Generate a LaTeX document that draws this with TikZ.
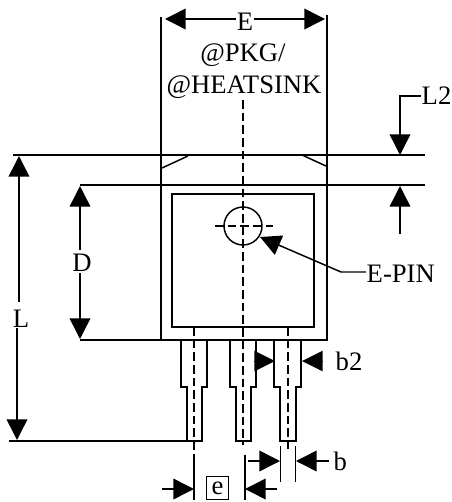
\documentclass[tikz,border=0pt]{standalone}
\usepackage{fontspec}
\setmainfont{Liberation Serif}
\usetikzlibrary{calc,positioning,arrows.meta}

\tikzset{
	dimtip/.style={-{Triangle[length=15.5pt,width=15.5pt]}},
	lbl/.style={font=\fontsize{20pt}{23pt}\selectfont,inner sep=0pt},
	center line/.style={dashed,dash pattern=on 6.5pt off 3pt},
}

\begin{document}
\begin{tikzpicture}[x=0.75pt,y=-0.75pt,line width=1.1pt]
			\useasboundingbox (0,0) rectangle (451,502);
			% package outline
			\draw (161,17) -- (161,340) -- (327,340) -- (327,15);
			\draw (172,194) rectangle (314,327);
			\draw (162,168) -- (188,156);
			\draw (302,155) -- (326,166);
			\draw (13,155) -- (425,155);
			\draw (80,185) -- (425,185);
			\draw (80,340) -- (161,340);
			\draw (9,441) -- (187,441);
			% leads
			\draw (181,340) -- (181,387) -- (187,387) -- (187,441) -- (202,441) -- (202,387) -- (207,387) -- (207,340);
			\draw (230,340) -- (230,387) -- (236,387) -- (236,441) -- (251,441) -- (251,387) -- (256,387) -- (256,340);
			\draw (274,340) -- (274,387) -- (280,387) -- (280,441) -- (296,441) -- (296,387) -- (301,387) -- (301,340);
			% center lines
			\draw[center line] (243,100) -- (243,445);
			\draw[center line] (194,327) -- (194,455);
			\draw[center line] (288,327) -- (288,449);
			\node[circle,draw,minimum size=28.5pt,inner sep=0pt] at (243,226) (pin) {};
			\draw[center line] (215,226) -- (273,226);
			% labels
			\node[lbl] at (245,22) (e) {E};
			\node[lbl] at (243,55) (pkg) {@PKG/};
			\node[lbl] at (244,87) (hs) {@HEATSINK};
			\node[lbl,anchor=west] at (421,96) (ltwo) {L2};
			\node[lbl] at (21,319) (l) {L};
			\node[lbl] at (82,263) (d) {D};
			\node[lbl,anchor=west] at (366,274) (epin) {E-PIN};
			\node[lbl,anchor=west] at (335,361) (btwo) {b2};
			\node[lbl,anchor=west] at (333,461) (b) {b};
			\node[lbl,draw,line width=0.9pt,minimum width=17pt,minimum height=17.5pt] at (217.5,488) (pitch) {e};
			% E
			\draw[dimtip] ([yshift=2.25pt]e.west) -- (165,19);
			\draw[dimtip] ([yshift=2.25pt]e.east) -- (325,19);
			% L2
			\draw[dimtip] (ltwo.west) -| (400,155);
			\draw[dimtip] (400,234) -- (400,186);
			% L
			\draw[dimtip] (19,302) -- (19,156);
			\draw[dimtip] (17,328) -- (17,440);
			% D
			\draw[dimtip] (80,250) -- (80,186);
			\draw[dimtip] (80,273) -- (80,339);
			% E-PIN
			\draw[dimtip] ([yshift=1.5pt]epin.west) -- (341,272) -- (260,237);
			% b2
			\draw[dimtip,line width=0pt] (255,361) -- (275,361);
			\draw[dimtip,line width=0pt] (321,361) -- (302,361);
			% b
			\draw (280.5,446) -- (280.5,482);
			\draw (295.5,446) -- (295.5,482);
			\draw[dimtip] (248,461) -- (280,461);
			\draw[dimtip] ([xshift=-3pt]b.west) -- (296,461);
			% e
			\draw (194,455) -- (194,500);
			\draw (245,455) -- (245,500);
			\draw[dimtip] (162,489) -- (194,489);
			\draw[dimtip] (277,489) -- (245,489);
		\end{tikzpicture}
\end{document}
